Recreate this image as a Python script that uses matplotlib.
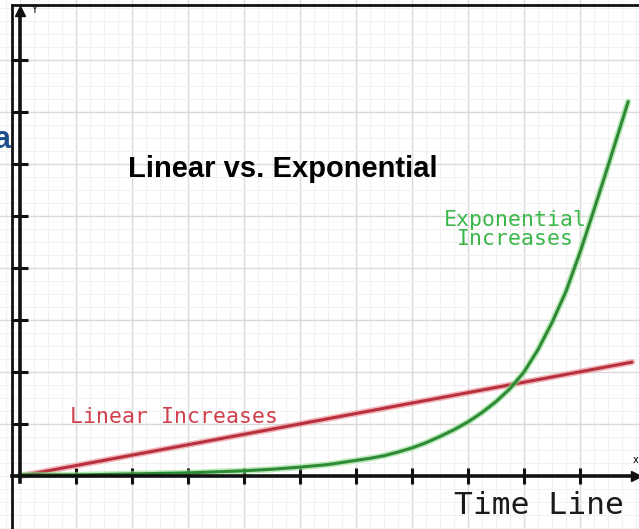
"""Linear vs. exponential growth sketch on graph paper."""

import matplotlib

matplotlib.use("Agg")
import matplotlib.pyplot as plt
from matplotlib.lines import Line2D
from matplotlib.ticker import MultipleLocator

# values in grid units (one unit = one major grid square)
LINEAR_X = [0.0, 10.93]
LINEAR_Y = [0.0, 2.19]

EXP_X = [0.0, 1.0, 2.0, 3.0, 4.0, 4.5, 5.0, 5.5, 6.0, 6.25, 6.5, 6.75, 7.0,
         7.25, 7.5, 7.75, 8.0, 8.25, 8.5, 8.75, 9.0, 9.25, 9.5, 9.75, 10.0,
         10.25, 10.5, 10.75, 10.86]
EXP_Y = [0.02, 0.02, 0.04, 0.06, 0.10, 0.13, 0.17, 0.22, 0.30, 0.34, 0.39,
         0.46, 0.54, 0.64, 0.76, 0.89, 1.04, 1.22, 1.43, 1.68, 2.0, 2.43,
         2.95, 3.55, 4.3, 5.12, 5.96, 6.82, 7.2]

TITLE = "Linear vs. Exponential"
LINEAR_LABEL = "Linear Increases"
EXP_LABEL = "Exponential\nIncreases"
X_LABEL = "Time Line"

RED = "#b8303e"
RED_TEXT = "#d0404c"
GREEN = "#2f8a35"
GREEN_TEXT = "#3cb84a"

W, H = 639, 529
fig = plt.figure(figsize=(W / 100, H / 100), dpi=100)
ax = fig.add_axes([0, 0, 1, 1])

# origin sits at pixel (20, 476); 56 px per x unit, 52 px per y unit
ax.set_xlim(-20 / 56, (W - 20) / 56)
ax.set_ylim(-(H - 476) / 52, 476 / 52)

# graph paper
ax.xaxis.set_major_locator(MultipleLocator(1))
ax.yaxis.set_major_locator(MultipleLocator(1))
ax.xaxis.set_minor_locator(MultipleLocator(0.25))
ax.yaxis.set_minor_locator(MultipleLocator(0.25))
ax.grid(which="major", color="#dadada", linewidth=1.0)
ax.grid(which="minor", color="#f1f1f1", linewidth=0.8)
ax.set_axisbelow(True)

# axes through the origin, ticks crossing the axis line
for side in ("top", "right"):
    ax.spines[side].set_visible(False)
ax.spines["left"].set_position(("data", 0))
ax.spines["bottom"].set_position(("data", 0))
ax.spines["left"].set_bounds(-0.12, 8.95)
ax.spines["bottom"].set_bounds(-0.15, 11.0)
for side in ("left", "bottom"):
    ax.spines[side].set_linewidth(2.6)
    ax.spines[side].set_color("#111111")
ax.set_xticks(range(1, 11))
ax.set_yticks(range(1, 9))
ax.tick_params(which="major", direction="inout", length=11, width=2.2,
               color="#111111", labelleft=False, labelbottom=False)
ax.tick_params(which="minor", length=0)
ax.plot(0, 8.95, marker="^", color="#111111", markersize=7, clip_on=False)
ax.plot(11.0, 0, marker=">", color="#111111", markersize=7, clip_on=False)
ax.text(0.2, 8.97, "Y", fontsize=7, family="DejaVu Sans", va="center")
ax.text(11.0, 0.25, "x", fontsize=7, family="DejaVu Sans", ha="center")

# the two growth curves, a soft halo under a darker core
ax.plot(LINEAR_X, LINEAR_Y, color="#e88a92", linewidth=4.5, alpha=0.6,
        solid_capstyle="round")
ax.plot(LINEAR_X, LINEAR_Y, color=RED, linewidth=2.2, solid_capstyle="round")
ax.plot(EXP_X, EXP_Y, color="#8fdc8f", linewidth=4.5, alpha=0.6,
        solid_capstyle="round", solid_joinstyle="round")
ax.plot(EXP_X, EXP_Y, color=GREEN, linewidth=2.2, solid_capstyle="round",
        solid_joinstyle="round")

ax.text(1.93, 5.9, TITLE, fontsize=21, fontweight="bold",
        family="Liberation Sans", va="center")
ax.text(0.9, 1.13, LINEAR_LABEL, fontsize=15.5, family="DejaVu Sans Mono",
        color=RED_TEXT, va="center")
ax.text(8.84, 4.74, EXP_LABEL, fontsize=15.5, family="DejaVu Sans Mono",
        color=GREEN_TEXT, ha="center", va="center", linespacing=0.95)
ax.text(7.75, -0.56, X_LABEL, fontsize=22.5, family="DejaVu Sans Mono",
        color="#1a1a1a", va="center")

# page frame and a cut-off heading letter at the left edge
fig.add_artist(Line2D([12 / W, 12 / W], [0, 1 - 5 / H], color="#111111",
                      linewidth=2.0))
fig.add_artist(Line2D([12 / W, 1], [1 - 5 / H, 1 - 5 / H], color="#111111",
                      linewidth=2.0))
fig.text(-7 / W, 1 - 140 / H, "a", fontsize=22, fontweight="bold",
         family="Liberation Sans", color="#1d4f8c", va="center")

fig.savefig("out.png", dpi=100)
